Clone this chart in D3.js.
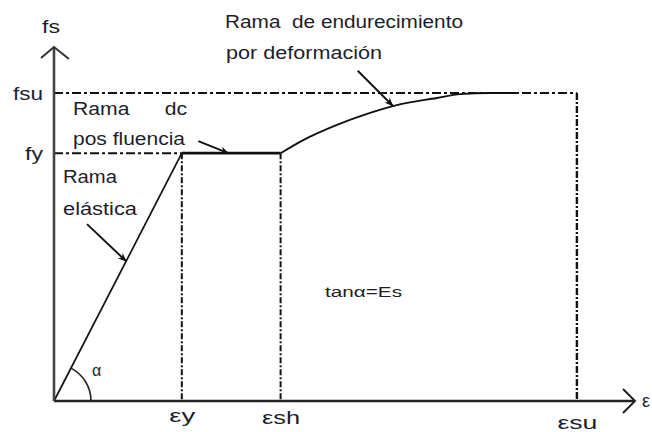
<!DOCTYPE html>
<html>
<head>
<meta charset="utf-8">
<script src="https://cdn.jsdelivr.net/npm/d3@7"></script>
<style>
  html, body { margin: 0; padding: 0; background: #fff; }
  svg { display: block; }
  text { font-family: "Liberation Sans", Arial, sans-serif; fill: #1d1d2b; }
</style>
</head>
<body>
<svg id="chart" width="652" height="432"></svg>
<script>
// Idealised stress–strain curve of reinforcing steel (schematic units).
const strainMarks = ["εy", "εsh", "εsu"];
const strainValues = [22, 39, 90];
const stressMarks = ["fy", "fsu"];
const stressValues = [70, 87];

// Elastic branch, yield plateau and strain-hardening branch.
const elasticStrain = [0, 22];
const elasticStress = [0, 70];
const plateauStrain = [22, 39];
const plateauStress = [70, 70];
const hardeningStrain = [39, 42.9, 48.7, 54.4, 59.0, 65.9, 69.9, 75, 80];
const hardeningStress = [70, 73.7, 78.0, 81.4, 83.6, 85.6, 86.7, 87, 87];

const svg = d3.select("#chart");

const x = d3.scaleLinear().domain([0, 100]).range([54, 635]);
const y = d3.scaleLinear().domain([0, 100]).range([401, 47]);

// Arrowhead used by the annotation pointers.
svg.append("defs").append("marker")
  .attr("id", "head")
  .attr("viewBox", "0 -5 10 10")
  .attr("refX", 9).attr("refY", 0)
  .attr("markerWidth", 10).attr("markerHeight", 9)
  .attr("markerUnits", "userSpaceOnUse")
  .attr("orient", "auto")
  .append("path").attr("d", "M0,-4L10,0L0,4L3,0Z").attr("fill", "#111");

const g = svg.append("g");

// Reference lines at yield and ultimate values.
const dashDot = "9,3,3,3";
const [eY, eSh, eSu] = strainValues;
const [fY, fSu] = stressValues;

g.append("line")
  .attr("x1", x(0)).attr("x2", x(eSu)).attr("y1", y(fSu)).attr("y2", y(fSu))
  .attr("stroke", "#111").attr("stroke-width", 2).attr("stroke-dasharray", dashDot);
g.append("line")
  .attr("x1", x(eSu)).attr("x2", x(eSu)).attr("y1", y(fSu)).attr("y2", y(0))
  .attr("stroke", "#111").attr("stroke-width", 2.4).attr("stroke-dasharray", "7,2,2,2");
g.append("line")
  .attr("x1", x(0)).attr("x2", x(eY)).attr("y1", y(fY)).attr("y2", y(fY))
  .attr("stroke", "#111").attr("stroke-width", 2).attr("stroke-dasharray", dashDot);
[eY, eSh].forEach(v => {
  g.append("line")
    .attr("x1", x(v)).attr("x2", x(v)).attr("y1", y(fY)).attr("y2", y(0))
    .attr("stroke", "#111").attr("stroke-width", 2).attr("stroke-dasharray", "6,2,2,2");
});

// Curve branches.
const line = d3.line().x(d => x(d[0])).y(d => y(d[1]));
const zip = (a, b) => a.map((v, i) => [v, b[i]]);

g.append("path").datum(zip(elasticStrain, elasticStress))
  .attr("d", line).attr("fill", "none").attr("stroke", "#111").attr("stroke-width", 1.7);
g.append("path").datum(zip(plateauStrain, plateauStress))
  .attr("d", line).attr("fill", "none").attr("stroke", "#111").attr("stroke-width", 2.8);
g.append("path").datum(zip(hardeningStrain, hardeningStress))
  .attr("d", line.curve(d3.curveMonotoneX)).attr("fill", "none")
  .attr("stroke", "#111").attr("stroke-width", 1.9);

// Axes with open arrowheads.
g.append("line").attr("x1", x(0)).attr("x2", x(100)).attr("y1", y(0)).attr("y2", y(0))
  .attr("stroke", "#222").attr("stroke-width", 2.6);
g.append("line").attr("x1", x(0)).attr("x2", x(0)).attr("y1", y(0)).attr("y2", y(100))
  .attr("stroke", "#444").attr("stroke-width", 2.6);
g.append("path")
  .attr("d", `M${x(100) - 12},${y(0) - 12}L${x(100)},${y(0)}L${x(100) - 12},${y(0) + 12}`)
  .attr("fill", "none").attr("stroke", "#222").attr("stroke-width", 2);
g.append("path")
  .attr("d", `M${x(0) - 13},${y(100) + 11}L${x(0)},${y(100)}L${x(0) + 15},${y(100) + 12}`)
  .attr("fill", "none").attr("stroke", "#333").attr("stroke-width", 2);

const stretch = (sel, len) => sel.attr("textLength", len).attr("lengthAdjust", "spacingAndGlyphs");

// Strain labels along the horizontal axis.
const xAxis = d3.axisBottom(x).tickValues(strainValues)
  .tickFormat((d, i) => strainMarks[i]).tickSize(0).tickPadding(12);
const xa = svg.append("g").attr("transform", `translate(0,${y(0)})`).call(xAxis);
xa.select(".domain").remove();
xa.selectAll("text").attr("font-size", 18).attr("fill", "#1d1d2b")
  .attr("font-family", "Liberation Sans, Arial, sans-serif")
  .attr("dy", (d, i) => ["0.5em", "0.6em", "0.9em"][i])
  .each(function (d, i) { stretch(d3.select(this), [26, 38, 40][i]); });

// Stress labels along the vertical axis.
const yAxis = d3.axisLeft(y).tickValues(stressValues)
  .tickFormat((d, i) => stressMarks[i]).tickSize(0).tickPadding(11);
const ya = svg.append("g").attr("transform", `translate(${x(0)},0)`).call(yAxis);
ya.select(".domain").remove();
ya.selectAll("text").attr("font-size", 18).attr("fill", "#1d1d2b")
  .attr("font-family", "Liberation Sans, Arial, sans-serif")
  .attr("dy", "0.36em")
  .each(function (d, i) { stretch(d3.select(this), [18, 30][i]); });

// Axis titles.
stretch(svg.append("text").attr("x", 42).attr("y", 33)
  .attr("font-size", 18).text("fs"), 18);
svg.append("text").attr("x", x(100) + 7).attr("y", y(0) + 6)
  .attr("font-size", 18).text("ε");

// Angle of the elastic branch.
const ang = Math.atan2(y(0) - y(fY), x(eY) - x(0));
const r = 37;
g.append("path")
  .attr("d", `M${x(0) + r},${y(0)}A${r},${r} 0 0 0 ${x(0) + r * Math.cos(ang)},${y(0) - r * Math.sin(ang)}`)
  .attr("fill", "none").attr("stroke", "#222").attr("stroke-width", 1.6);
svg.append("text").attr("x", x(0) + 38).attr("y", y(0) - 25)
  .attr("font-size", 16).text("α");

// Branch annotations with pointers.
const notes = [
  { lines: ["Rama", "elástica"], at: [12.4, 39.5], from: [-39, -37] },
  { lines: ["Rama      dc", "pos fluencia"], at: [30, 70], from: [-30, -12] },
  { lines: ["Rama  de endurecimiento", "por deformación"], at: [58.3, 83.4], from: [-35, -35] }
];
const noteText = [
  { pos: [[63, 183], [63, 215]], len: [54, 74] },
  { pos: [[73, 115], [73, 145]], len: [114, 112] },
  { pos: [[225, 28], [226, 59]], len: [238, 156] }
];
notes.forEach((n, i) => {
  const tx = x(n.at[0]), ty = y(n.at[1]);
  g.append("line")
    .attr("x1", tx + n.from[0]).attr("y1", ty + n.from[1]).attr("x2", tx).attr("y2", ty)
    .attr("stroke", "#111").attr("stroke-width", 1.9).attr("marker-end", "url(#head)");
  n.lines.forEach((t, j) => {
    const el = svg.append("text")
      .attr("x", noteText[i].pos[j][0]).attr("y", noteText[i].pos[j][1])
      .attr("font-size", 17.5)
      .style("white-space", "pre")
      .text(t);
    stretch(el, noteText[i].len[j]);
  });
});

// Modulus note.
stretch(svg.append("text").attr("x", 325).attr("y", 297)
  .attr("font-size", 15.5).text("tanα=Es"), 77);
</script>
</body>
</html>
